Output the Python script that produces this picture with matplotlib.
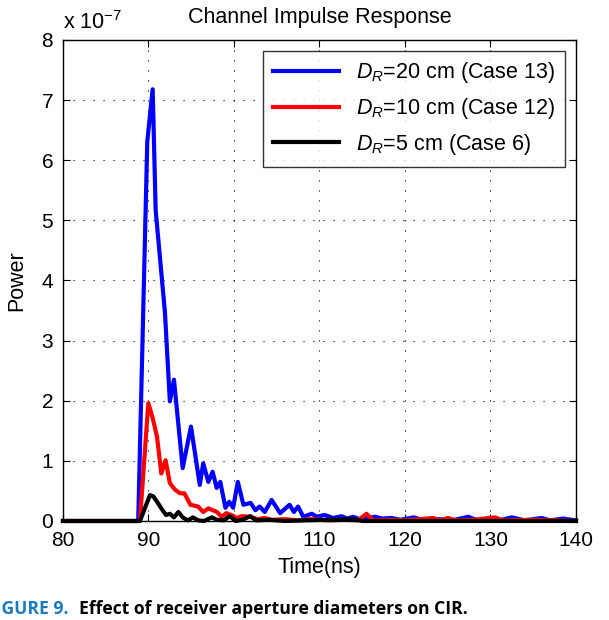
import matplotlib
matplotlib.use("Agg")
import matplotlib.pyplot as plt

plt.rcParams['font.family'] = ['Liberation Sans', 'DejaVu Sans']
plt.rcParams['mathtext.fontset'] = 'custom'
plt.rcParams['mathtext.rm'] = 'Liberation Sans'
plt.rcParams['mathtext.it'] = 'Liberation Sans:italic'

# data (power in units of 1e-7)
t_20 = [80, 88.8, 89.86, 90.49, 90.84, 91.93, 92.5, 92.98, 94.0, 94.97, 96.0, 96.4,
        97.0, 97.5, 97.97, 98.4, 99.0, 99.45, 99.9, 100.45, 101.1, 101.95, 102.5,
        103.0, 103.6, 104.4, 105.4, 106.5, 107.0, 107.5, 108.1, 109.1, 109.7, 110.6,
        111.6, 112.6, 113.2, 113.95, 114.7, 116.5, 117.3, 118.4, 119.5, 121, 122,
        124, 125.5, 127.4, 128.5, 130, 131, 132.5, 134, 136, 137, 138.5, 140]
p_20 = [0, 0, 6.31, 7.18, 5.17, 3.46, 1.99, 2.35, 0.88, 1.57, 0.60, 0.96,
        0.65, 0.82, 0.55, 0.65, 0.22, 0.32, 0.22, 0.65, 0.27, 0.30, 0.18,
        0.24, 0.15, 0.35, 0.13, 0.27, 0.15, 0.24, 0.07, 0.12, 0.07, 0.10,
        0.05, 0.08, 0.04, 0.07, 0.03, 0.07, 0.04, 0.05, 0.02, 0.06, 0.02,
        0.03, 0.01, 0.07, 0.01, 0.03, 0.01, 0.06, 0.01, 0.05, 0.01, 0.04, 0.01]

t_10 = [80, 89.0, 89.98, 90.5, 91.0, 91.5, 92.0, 92.5, 93.1, 93.7, 94.2, 94.9, 95.8,
        96.4, 97.0, 98.0, 98.55, 99.1, 99.7, 100.3, 100.9, 101.9, 102.8, 103.5,
        104.5, 106, 107.5, 109, 111, 113, 114.5, 115.5, 116.3, 118, 120, 123.3,
        124.2, 125, 126, 128, 130.5, 131.5, 135, 140]
p_10 = [0, 0, 1.96, 1.71, 1.40, 0.79, 1.01, 0.63, 0.52, 0.46, 0.46, 0.27, 0.24,
        0.15, 0.21, 0.15, 0.07, 0.13, 0.10, 0.05, 0.08, 0.07, 0.03, 0.05,
        0.02, 0.03, 0.01, 0.03, 0.01, 0.02, 0.01, 0.12, 0.01, 0.02, 0.01, 0.05,
        0.01, 0.05, 0.01, 0.02, 0.06, 0.01, 0.02, 0.0]

t_5 = [80, 89.0, 90.17, 90.56, 91.0, 91.5, 92.05, 92.5, 92.98, 93.5, 94.0, 94.6,
       95.2, 95.8, 96.5, 97.4, 98.0, 98.8, 99.5, 100.2, 101.0, 101.9, 102.6, 104,
       106, 108, 114, 115, 140]
p_5 = [0, 0, 0.43, 0.41, 0.32, 0.21, 0.10, 0.12, 0.06, 0.15, 0.06, 0.01,
       0.06, 0.01, 0.0, 0.06, 0.02, 0.01, 0.08, 0.0, 0.02, 0.08, 0.01, 0.02,
       0.0, 0.01, 0.03, 0.0, 0]

labels = ['$D_R$=20 cm (Case 13)', '$D_R$=10 cm (Case 12)', '$D_R$=5 cm (Case 6)']
colors = ['#0000ff', '#ff0000', '#000000']

fig = plt.figure(figsize=(6.09, 6.20), dpi=100)
ax = fig.add_axes([0.1034, 0.1597, 0.8424, 0.7758])

for t, p, lab, c in zip([t_20, t_10, t_5], [p_20, p_10, p_5], labels, colors):
    ax.plot(t, p, color=c, lw=3, label=lab, clip_on=False)

ax.set_xlim(80, 140)
ax.set_ylim(0, 8)
ax.set_xticks(range(80, 141, 10))
ax.set_yticks(range(0, 9))
ax.tick_params(direction='in', top=True, right=True, length=5, labelsize=15, pad=7)
ax.grid(True, color='black', linestyle=(0, (1, 8)), lw=0.8)
for s in ax.spines.values():
    s.set_linewidth(1.0)

ax.set_title('Channel Impulse Response', fontsize=15.5, pad=12)
ax.set_xlabel('Time(ns)', fontsize=15.5, labelpad=5)
ax.set_ylabel('Power', fontsize=15.5, labelpad=10)
ax.text(0.0, 1.012, r'x 10$^{-7}$', transform=ax.transAxes, fontsize=15.5,
        ha='left', va='bottom')

leg = ax.legend(loc='upper right', fontsize=15.5, frameon=True, fancybox=False,
                edgecolor='black', handlelength=3.1, borderaxespad=0.5,
                labelspacing=0.5, borderpad=0.45)
leg.get_frame().set_linewidth(1.0)

fig.text(0.112, 0.017, 'FIGURE 9.', color='#1a7abf', fontsize=12.6, fontweight='bold',
         ha='right', va='center', family='Open Sans')
fig.text(0.130, 0.017, 'Effect of receiver aperture diameters on CIR.', color='black',
         fontsize=12.6, fontweight='bold', ha='left', va='center', family='Open Sans')

fig.savefig('out.png', dpi=100)
